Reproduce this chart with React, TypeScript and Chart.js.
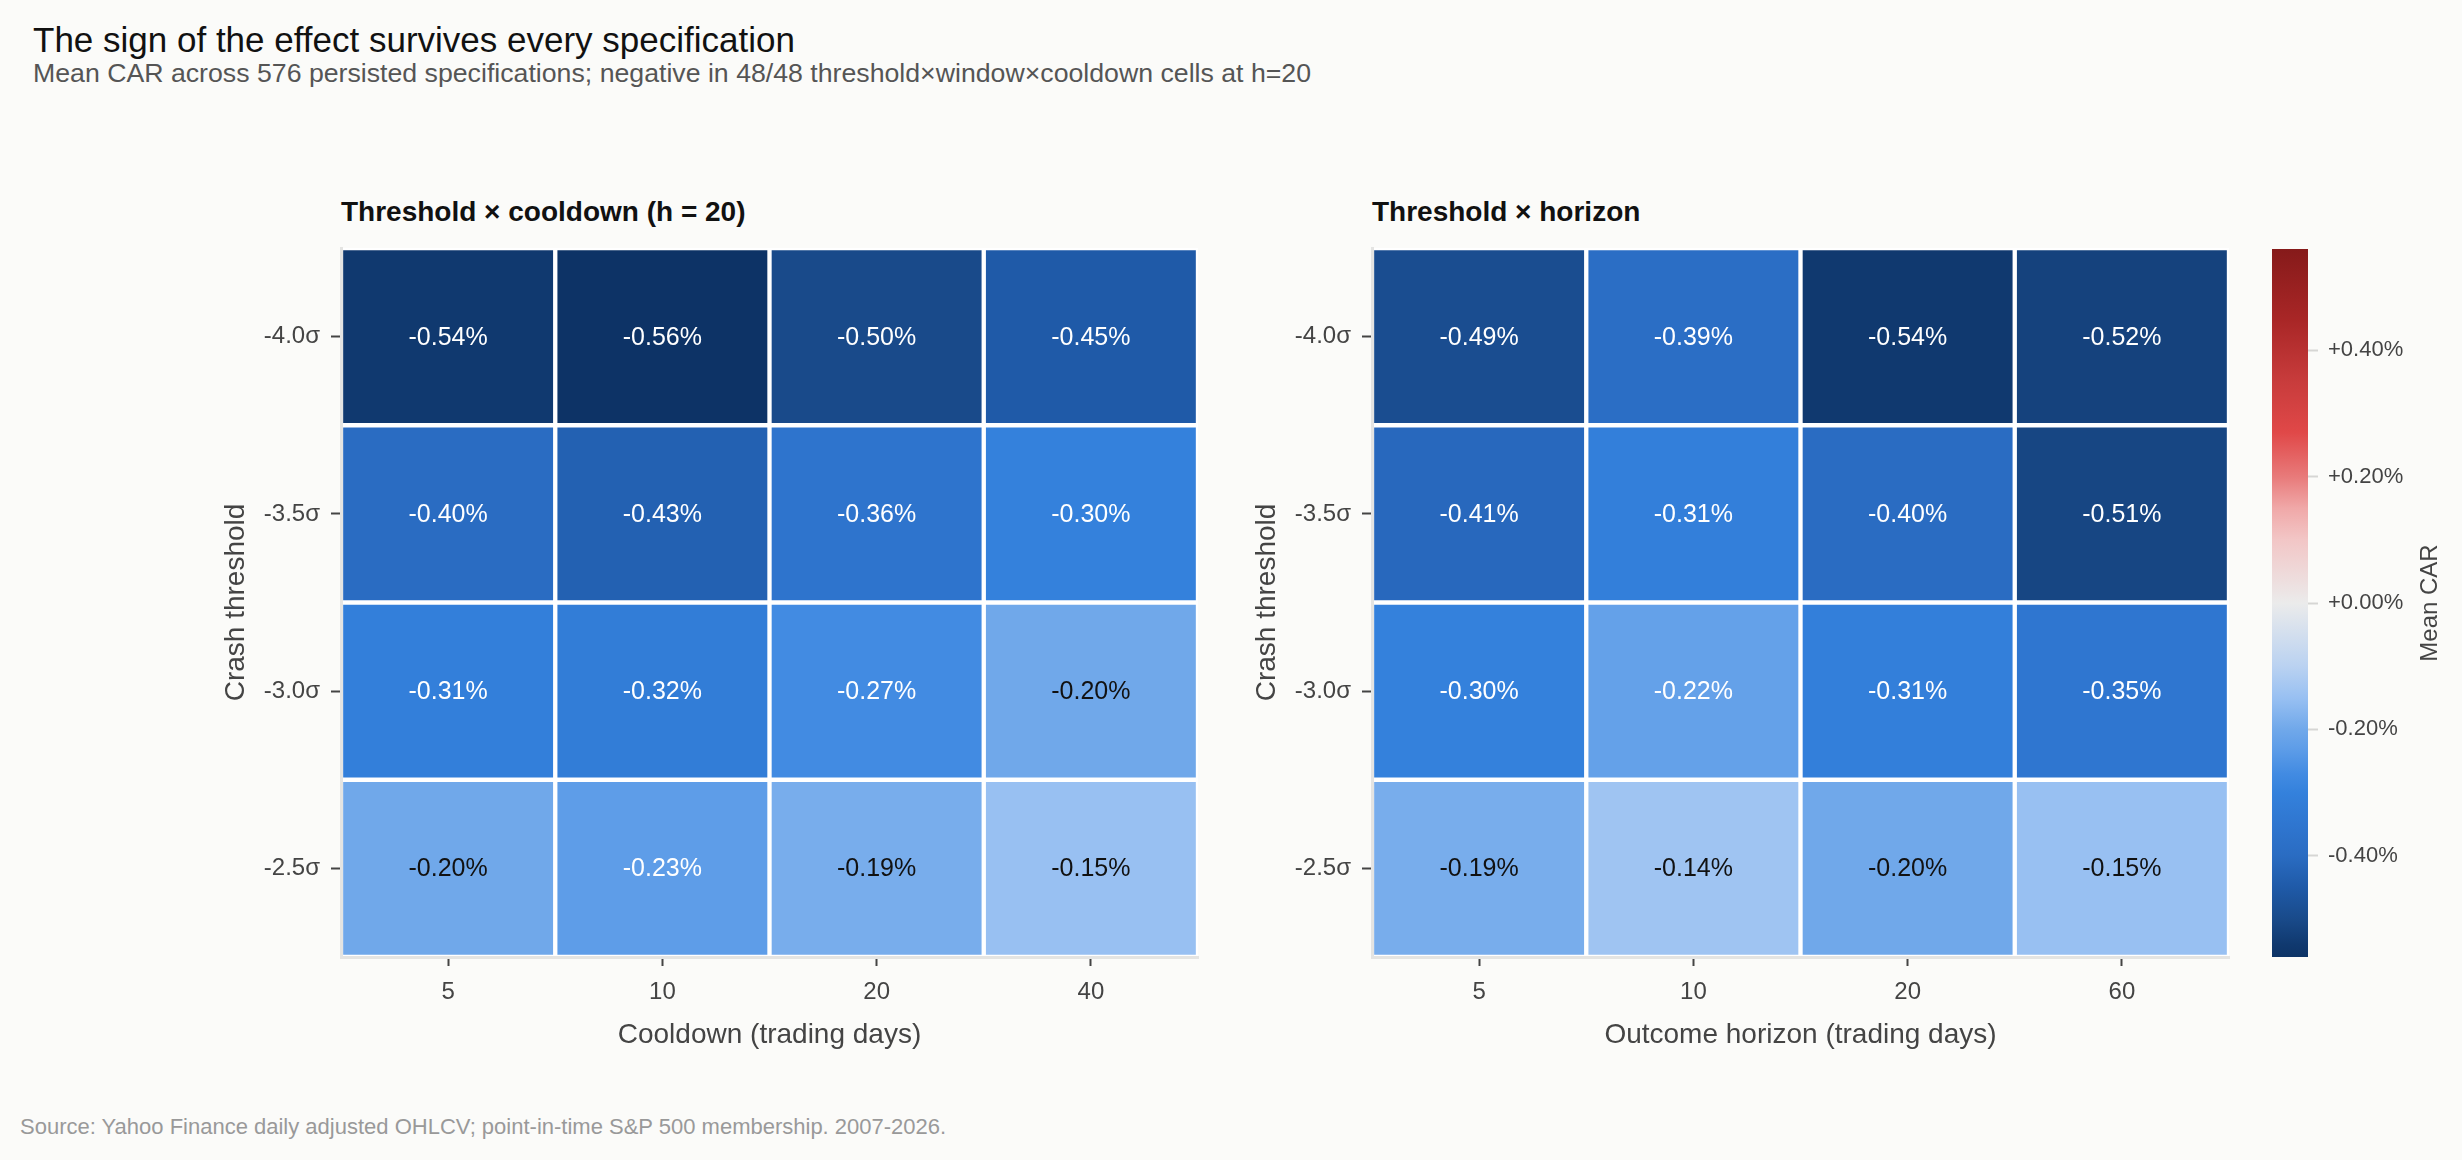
import { useEffect, useRef } from "react";
import { Chart, registerables } from "chart.js";

Chart.register(...registerables);
Chart.defaults.font.family = "'Liberation Sans', Arial, sans-serif";

const THRESHOLDS = [-4.0, -3.5, -3.0, -2.5];
const COOLDOWNS = ["5", "10", "20", "40"];
const HORIZONS = ["5", "10", "20", "60"];
// mean CAR in %, one row per threshold, one column per x category
const CAR_BY_COOLDOWN = [
  [-0.54, -0.56, -0.5, -0.45],
  [-0.4, -0.43, -0.36, -0.3],
  [-0.31, -0.32, -0.27, -0.2],
  [-0.2, -0.23, -0.19, -0.15],
];
const CAR_BY_HORIZON = [
  [-0.49, -0.39, -0.54, -0.52],
  [-0.41, -0.31, -0.4, -0.51],
  [-0.3, -0.22, -0.31, -0.35],
  [-0.19, -0.14, -0.2, -0.15],
];
const COLORBAR_TICKS = [-0.4, -0.2, 0, 0.2, 0.4];
const CAR_LIMIT = 0.56;

// diverging ramp, blue (negative) -> grey -> red (positive)
const RAMP: [number, string][] = [
  [-0.56, "#0d3366"],
  [-0.54, "#10396f"],
  [-0.5, "#194a8a"],
  [-0.45, "#1f5aa8"],
  [-0.4, "#2a6cc2"],
  [-0.35, "#2f76d0"],
  [-0.3, "#3481dc"],
  [-0.27, "#428be2"],
  [-0.23, "#5e9de8"],
  [-0.2, "#70a8ea"],
  [-0.15, "#98c0f2"],
  [-0.1, "#bad2f1"],
  [0, "#ebebeb"],
  [0.1, "#f2c6c6"],
  [0.15, "#f0a8a8"],
  [0.2, "#e87a7a"],
  [0.27, "#e04848"],
  [0.35, "#c83c3c"],
  [0.45, "#a82626"],
  [0.56, "#861a1a"],
];

const FONT = "'Liberation Sans', Arial, sans-serif";

function hexRgb(h: string) {
  const n = parseInt(h.slice(1), 16);
  return [(n >> 16) & 255, (n >> 8) & 255, n & 255];
}

function carColor(v: number) {
  const x = Math.max(-CAR_LIMIT, Math.min(CAR_LIMIT, v));
  for (let i = 1; i < RAMP.length; i++) {
    const [v1, c1] = RAMP[i];
    if (x <= v1) {
      const [v0, c0] = RAMP[i - 1];
      const t = (x - v0) / (v1 - v0);
      const a = hexRgb(c0);
      const b = hexRgb(c1);
      const m = a.map((k, j) => Math.round(k + (b[j] - k) * t));
      return `rgb(${m[0]}, ${m[1]}, ${m[2]})`;
    }
  }
  return RAMP[RAMP.length - 1][1];
}

const cellLabels = {
  id: "cellLabels",
  afterDatasetsDraw(chart: any) {
    const { ctx } = chart;
    ctx.save();
    ctx.font = `25px ${FONT}`;
    ctx.textAlign = "center";
    ctx.textBaseline = "middle";
    chart.data.datasets.forEach((ds: any, i: number) => {
      chart.getDatasetMeta(i).data.forEach((bar: any, j: number) => {
        const v = ds.car[j];
        const { x, y } = bar.getCenterPoint();
        ctx.fillStyle = Math.abs(v) > 0.205 ? "#ffffff" : "#111111";
        ctx.fillText(`${v.toFixed(2)}%`, x, y + 1);
      });
    });
    ctx.restore();
  },
};

const HALF = (THRESHOLDS[1] - THRESHOLDS[0]) / 2;

function Heatmap({ categories, values, xTitle, left }: { categories: string[]; values: number[][]; xTitle: string; left: number }) {
  const canvasRef = useRef<HTMLCanvasElement>(null);

  useEffect(() => {
    if (!canvasRef.current) return;
    const chart = new Chart(canvasRef.current, {
      type: "bar",
      data: {
        labels: categories,
        datasets: THRESHOLDS.map((t, r) => ({
          data: values[r].map(() => [t - HALF, t + HALF]),
          car: values[r],
          backgroundColor: values[r].map(carColor),
          borderColor: "#ffffff",
          borderWidth: 2.5,
          borderSkipped: false,
          grouped: false,
          barPercentage: 1,
          categoryPercentage: 1,
        })) as any,
      },
      options: {
        responsive: false,
        animation: false,
        layout: { padding: { top: 8, right: 22, bottom: 0, left: 0 } },
        plugins: { legend: { display: false }, tooltip: { enabled: false } },
        scales: {
          x: {
            afterFit: (s: any) => {
              s.height = 113;
            },
            grid: { offset: false, drawOnChartArea: false, tickLength: 9, tickColor: "#444", tickWidth: 2 },
            border: { display: true, color: "#e4e4e2", width: 3, z: 1 },
            ticks: { color: "#444", font: { size: 24 }, padding: 12 },
            title: { display: true, text: xTitle, color: "#444", font: { size: 28 }, padding: { top: 0, bottom: 18 } },
          },
          y: {
            reverse: true,
            min: THRESHOLDS[0] - HALF,
            max: THRESHOLDS[THRESHOLDS.length - 1] + HALF,
            afterBuildTicks: (s: any) => {
              s.ticks = THRESHOLDS.map((value) => ({ value }));
            },
            afterFit: (s: any) => {
              s.width = 161;
              s.paddingTop = 0;
              s.paddingBottom = 0;
            },
            grid: { drawOnChartArea: false, tickLength: 10, tickColor: "#444", tickWidth: 2 },
            border: { display: true, color: "#e4e4e2", width: 3, z: 1 },
            ticks: { color: "#444", font: { size: 24 }, padding: 11, callback: (v: any) => `${Number(v).toFixed(1)}σ` },
            title: { display: true, text: "Crash threshold", color: "#444", font: { size: 28 }, padding: { top: 39, bottom: 0 } },
          },
        },
      },
      plugins: [cellLabels],
    });
    return () => chart.destroy();
  }, [categories, values, xTitle]);

  return <canvas ref={canvasRef} width={1040} height={830} style={{ position: "absolute", left, top: 240 }} />;
}

const meanCarTitle = {
  id: "meanCarTitle",
  afterDraw(chart: any) {
    const { ctx, chartArea } = chart;
    ctx.save();
    ctx.translate(200, (chartArea.top + chartArea.bottom) / 2);
    ctx.rotate(-Math.PI / 2);
    ctx.font = `24px ${FONT}`;
    ctx.fillStyle = "#444";
    ctx.textAlign = "center";
    ctx.textBaseline = "middle";
    ctx.fillText("Mean CAR", 0, 0);
    ctx.restore();
  },
};

function ColorBar() {
  const canvasRef = useRef<HTMLCanvasElement>(null);

  useEffect(() => {
    if (!canvasRef.current) return;
    const chart = new Chart(canvasRef.current, {
      type: "bar",
      data: {
        labels: ["Mean CAR"],
        datasets: [
          {
            data: [[-CAR_LIMIT, CAR_LIMIT]],
            backgroundColor: (c: any) => {
              const { chartArea, scales } = c.chart;
              if (!chartArea) return "#ebebeb";
              const y0 = scales.y.getPixelForValue(-CAR_LIMIT);
              const y1 = scales.y.getPixelForValue(CAR_LIMIT);
              const g = c.chart.ctx.createLinearGradient(0, y0, 0, y1);
              RAMP.forEach(([v, col]) => g.addColorStop((v + CAR_LIMIT) / (2 * CAR_LIMIT), col));
              return g;
            },
            borderWidth: 0,
            barPercentage: 1,
            categoryPercentage: 1,
          },
        ] as any,
      },
      options: {
        responsive: false,
        animation: false,
        layout: { padding: { top: 9, right: 0, bottom: 113, left: 42 } },
        plugins: { legend: { display: false }, tooltip: { enabled: false } },
        scales: {
          x: { display: false },
          y: {
            position: "right",
            min: -CAR_LIMIT,
            max: CAR_LIMIT,
            afterBuildTicks: (s: any) => {
              s.ticks = COLORBAR_TICKS.map((value) => ({ value }));
            },
            afterFit: (s: any) => {
              s.width = 154;
              s.paddingTop = 0;
              s.paddingBottom = 0;
            },
            grid: { drawOnChartArea: false, tickLength: 10, tickColor: "#d6d6d4", tickWidth: 2 },
            border: { display: false },
            ticks: {
              color: "#444",
              font: { size: 22 },
              padding: 10,
              callback: (v: any) => `${Number(v) >= 0 ? "+" : ""}${Number(v).toFixed(2)}%`,
            },
          },
        },
      },
      plugins: [meanCarTitle],
    });
    return () => chart.destroy();
  }, []);

  return <canvas ref={canvasRef} width={232} height={830} style={{ position: "absolute", left: 2230, top: 240 }} />;
}

const text = (extra: React.CSSProperties): React.CSSProperties => ({
  position: "absolute",
  margin: 0,
  lineHeight: 1,
  whiteSpace: "nowrap",
  fontFamily: FONT,
  ...extra,
});

export default function App() {
  return (
    <div style={{ position: "fixed", left: 0, top: 0, width: 2462, height: 1160, background: "#fbfbf9", overflow: "hidden" }}>
      <div style={text({ left: 33, top: 22, fontSize: 35, color: "#111" })}>The sign of the effect survives every specification</div>
      <div style={text({ left: 33, top: 60, fontSize: 26.7, color: "#555" })}>
        Mean CAR across 576 persisted specifications; negative in 48/48 threshold×window×cooldown cells at h=20
      </div>
      <div style={text({ left: 341, top: 198, fontSize: 28, fontWeight: 700, color: "#111" })}>Threshold × cooldown (h = 20)</div>
      <div style={text({ left: 1372, top: 198, fontSize: 28, fontWeight: 700, color: "#111" })}>Threshold × horizon</div>
      <Heatmap categories={COOLDOWNS} values={CAR_BY_COOLDOWN} xTitle="Cooldown (trading days)" left={180} />
      <Heatmap categories={HORIZONS} values={CAR_BY_HORIZON} xTitle="Outcome horizon (trading days)" left={1211} />
      <ColorBar />
      <div style={text({ left: 20, top: 1116, fontSize: 22, color: "#999" })}>
        Source: Yahoo Finance daily adjusted OHLCV; point-in-time S&amp;P 500 membership. 2007-2026.
      </div>
    </div>
  );
}
